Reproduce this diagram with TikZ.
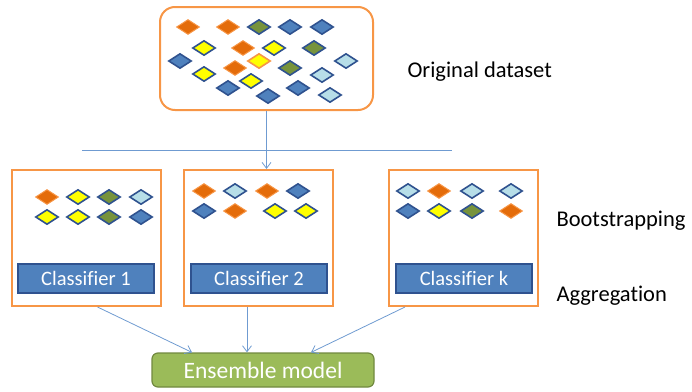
\documentclass[tikz,border=0pt]{standalone}
\usepackage{fontspec}
\setmainfont{Carlito}[Ligatures=NoCommon]
\usetikzlibrary{arrows.meta}
\usetikzlibrary{shapes.geometric}
\usetikzlibrary{positioning}

\definecolor{boxorange}{HTML}{F79646}
\definecolor{dorange}{HTML}{E46C0A}
\definecolor{dyellow}{HTML}{FFFF00}
\definecolor{dgreen}{HTML}{77933C}
\definecolor{dblue}{HTML}{4F81BD}
\definecolor{dlight}{HTML}{B7DEE8}
\definecolor{dedge}{HTML}{2F528F}
\definecolor{ensgreen}{HTML}{9BBB59}
\definecolor{ensedge}{HTML}{71893F}
\definecolor{linkblue}{HTML}{6F9BD1}

\tikzset{
    dia/.style={shape=diamond, minimum width=23pt, minimum height=15pt, inner sep=0pt, draw=dedge, line width=1.6pt},
    dor/.style={fill=dorange, draw=boxorange, line width=1pt},
    dye/.style={fill=dyellow},
    dyo/.style={fill=dyellow, draw=boxorange},
    dgr/.style={fill=dgreen},
    dbl/.style={fill=dblue},
    dlb/.style={fill=dlight},
    bagbox/.style={draw=boxorange, line width=2pt, minimum width=149pt, minimum height=136pt},
    clsbar/.style={draw=dedge, fill=dblue, line width=1.2pt, minimum width=136pt, minimum height=29pt,
        text=white, font=\fontsize{20.5}{24}\selectfont},
    link/.style={draw=linkblue, line width=0.8pt, ->, >={Straight Barb[length=6pt,width=9pt]}},
    lbl/.style={anchor=west, font=\fontsize{22.5}{26}\selectfont}
}

\begin{document}
\begin{tikzpicture}[x=1pt, y=-1pt]
    \useasboundingbox (0,0) rectangle (692,391);

    % Original dataset
    \node[draw=boxorange, line width=2pt, rounded corners=15pt, minimum width=213pt, minimum height=103pt] (orig) at (266.5,58.5) {};
    \foreach \x/\y/\c [count=\i] in {
        188/27/dor, 228/27/dor, 259/27/dgr, 290/27/dbl, 322/27/dbl,
        204/48/dye, 243/48/dor, 274/48/dye, 314/48/dgr,
        180/61/dbl, 259/61/dyo, 346/61/dlb,
        235/68/dor, 290/68/dgr,
        204/74/dye, 322/75/dlb,
        228/88/dbl, 251/81/dye, 268/96/dbl, 298/88/dbl, 330/95/dlb} {
        \node[dia, \c] (o\i) at (\x,\y) {};
    }
    \node[lbl] (origlbl) at (404,72) {Original dataset};

    % Bootstrap samples
    \node[bagbox] (box1) at (86.5,238) {};
    \node[bagbox] (box2) at (258.5,238) {};
    \node[bagbox] (boxk) at (463,238) {};

    \foreach \x/\y/\c [count=\i] in {
        47/197/dor, 78/197/dye, 109/197/dgr, 141/197/dlb,
        47/217/dye, 78/217/dye, 109/217/dgr, 141/217/dbl} {
        \node[dia, \c] (a\i) at (\x,\y) {};
    }
    \foreach \x/\y/\c [count=\i] in {
        204/191/dor, 235/191/dlb, 267/191/dor, 298/191/dbl,
        204/211/dbl, 235/211/dor, 275/211/dye, 306/211/dye} {
        \node[dia, \c] (b\i) at (\x,\y) {};
    }
    \foreach \x/\y/\c [count=\i] in {
        408/191/dlb, 439/191/dor, 472/191/dlb, 511/191/dlb,
        408/211/dbl, 439/211/dye, 472/211/dgr, 511/211/dor} {
        \node[dia, \c] (k\i) at (\x,\y) {};
    }

    % Classifiers
    \node[clsbar] (cls1) at (86,278.5) {Classifier 1};
    \node[clsbar] (cls2) at (259,278.5) {Classifier 2};
    \node[clsbar] (clsk) at (464,278.5) {Classifier k};

    \node[lbl] (bootlbl) at (553,221) {Bootstrapping};
    \node[lbl] (agglbl) at (553,296) {Aggregation};

    % Ensemble
    \node[draw=ensedge, fill=ensgreen, line width=1.2pt, rounded corners=6pt, minimum width=222pt, minimum height=34pt,
        text=white, font=\fontsize{23.5}{27}\selectfont] (ens) at (263,370) {Ensemble model};

    % Connectors
    \coordinate (hl) at (82,150);
    \coordinate (hr) at (452,150);
    \draw[linkblue, line width=0.8pt] (hl) -- (hr);
    \draw[link] (orig.south) -- (orig.south |- box2.north);

    \draw[link] ([xshift=11pt]box1.south) -- ([xshift=-71pt]ens.north);
    \draw[link] ([xshift=-11.5pt]box2.south) -- ([xshift=-16pt]ens.north);
    \draw[link] ([xshift=-58pt]boxk.south) -- ([xshift=48pt]ens.north);
\end{tikzpicture}
\end{document}
